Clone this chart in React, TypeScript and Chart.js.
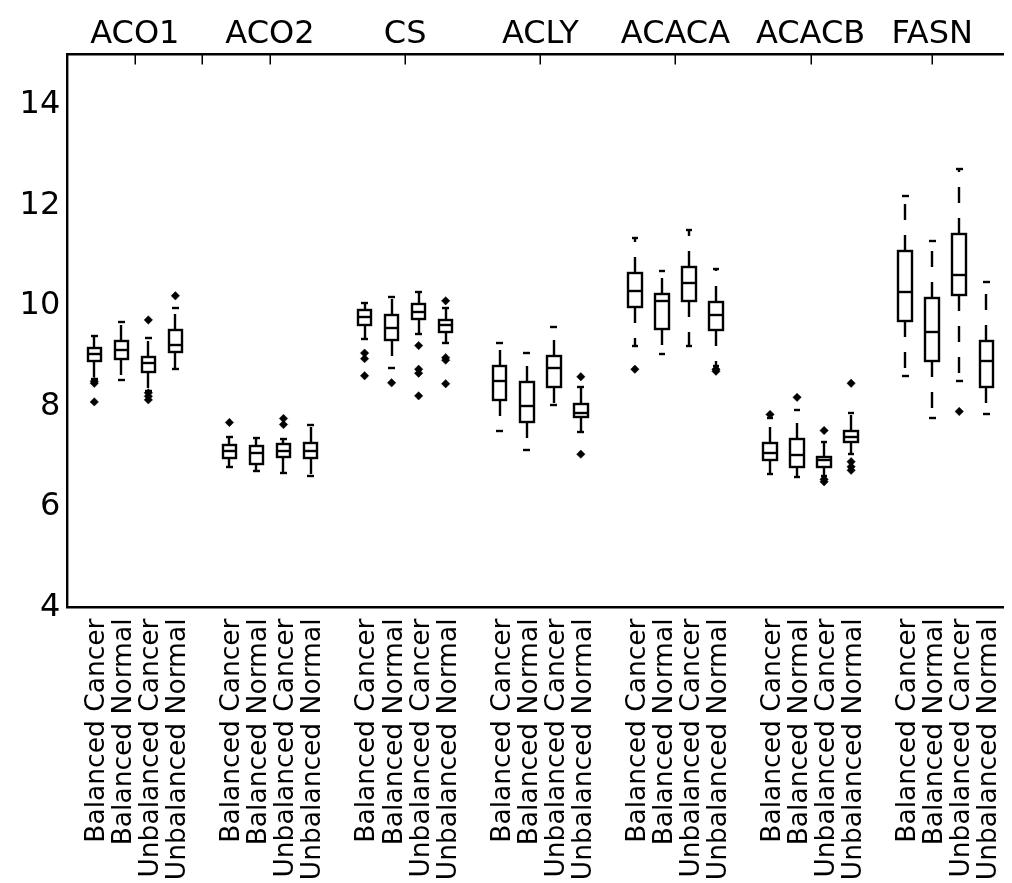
import React, { useEffect, useRef } from "react";
import { Chart, registerables } from "chart.js";

Chart.register(...registerables);

// Genes (one block of four boxes each) and the four sample groups per gene
const genes = ["ACO1", "ACO2", "CS", "ACLY", "ACACA", "ACACB", "FASN"];
const sampleGroups = ["Balanced Cancer", "Balanced Normal", "Unbalanced Cancer", "Unbalanced Normal"];

// Top axis: tick positions and their labels (gene names)
const topTickValues = [2.5, 5, 7.5, 12.5, 17.5, 22.5, 27.5, 32];
const topTickLabels = ["ACO1", "", "ACO2", "CS", "ACLY", "ACACA", "ACACB", "FASN"];

// Left axis ticks
const yTickValues = [4, 6, 8, 10, 12, 14];

// Box statistics, in box order (gene by gene, four sample groups each)
const upperWhisker = [
  9.41, 9.67, 9.36, 9.96,
  7.40, 7.37, 7.35, 7.63,
  10.05, 10.17, 10.28, 9.95,
  9.26, 9.07, 9.57, 8.38,
  11.34, 10.69, 11.50, 10.73,
  7.77, 7.93, 7.29, 7.86,
  12.19, 11.29, 12.72, 10.48,
];
const q3 = [
  9.16, 9.30, 8.98, 9.52,
  7.23, 7.22, 7.25, 7.27,
  9.92, 9.82, 10.04, 9.72,
  8.81, 8.48, 9.01, 8.04,
  10.65, 10.24, 10.78, 10.07,
  7.28, 7.35, 7.00, 7.51,
  11.10, 10.15, 11.42, 9.30,
];
const median = [
  9.05, 9.12, 8.86, 9.22,
  7.11, 7.07, 7.12, 7.12,
  9.77, 9.55, 9.88, 9.62,
  8.51, 8.01, 8.77, 7.86,
  10.30, 10.10, 10.46, 9.82,
  7.08, 7.03, 6.93, 7.40,
  10.27, 9.49, 10.61, 8.91,
];
const q1 = [
  8.90, 8.94, 8.69, 9.08,
  6.97, 6.85, 6.99, 6.97,
  9.61, 9.32, 9.73, 9.49,
  8.13, 7.68, 8.38, 7.78,
  9.97, 9.54, 10.10, 9.51,
  6.93, 6.80, 6.80, 7.30,
  9.70, 8.90, 10.22, 8.38,
];
const lowerWhisker = [
  8.55, 8.53, 8.30, 8.74,
  6.79, 6.72, 6.68, 6.62,
  9.34, 8.76, 9.44, 9.26,
  7.52, 7.13, 8.03, 7.50,
  9.21, 9.04, 9.21, 8.80,
  6.65, 6.59, 6.62, 7.05,
  8.61, 7.76, 8.51, 7.84,
];
const outliers: number[][] = [
  [8.50, 8.46, 8.09], [], [9.72, 8.27, 8.20, 8.13], [10.20],
  [7.68], [], [7.76, 7.64], [],
  [9.06, 8.95, 8.61], [8.47], [9.21, 8.74, 8.66, 8.21], [10.10, 8.97, 8.92, 8.45],
  [], [], [], [8.59, 7.05],
  [8.74], [], [], [8.74, 8.70],
  [7.84], [8.18], [7.52, 6.55, 6.50], [8.46, 6.90, 6.80, 6.73],
  [], [], [7.90], [],
];

// Box layout: four boxes per gene, one empty slot between genes
const boxPositions: number[] = [];
const boxLabels: string[] = [];
genes.forEach((_, g) => {
  sampleGroups.forEach((name, k) => {
    boxPositions.push(g * 5 + k + 1);
    boxLabels.push(name);
  });
});

const BOX_WIDTH = 0.5;
const CAP_WIDTH = 0.25;

const outlierPoints = outliers.flatMap((vals, i) =>
  vals.map((v) => ({ x: boxPositions[i], y: v }))
);

const FONT = "'DejaVu Sans', sans-serif";

const boxPlotPlugin = {
  id: "boxPlot",
  beforeDatasetsDraw(chart: any) {
    const xs = chart.scales.x;
    const ys = chart.scales.y;
    const ctx: CanvasRenderingContext2D = chart.ctx;
    const r = (v: number) => Math.round(v);
    ctx.save();
    ctx.strokeStyle = "#000";
    ctx.lineWidth = 2.4;
    ctx.lineCap = "butt";
    ctx.lineJoin = "miter";
    const seg = (x1: number, y1: number, x2: number, y2: number) => {
      ctx.beginPath();
      ctx.moveTo(x1, y1);
      ctx.lineTo(x2, y2);
      ctx.stroke();
    };
    boxPositions.forEach((p, i) => {
      const cx = r(xs.getPixelForValue(p));
      const left = r(xs.getPixelForValue(p - BOX_WIDTH / 2));
      const right = r(xs.getPixelForValue(p + BOX_WIDTH / 2));
      const capL = r(xs.getPixelForValue(p - CAP_WIDTH / 2));
      const capR = r(xs.getPixelForValue(p + CAP_WIDTH / 2));
      const yHi = r(ys.getPixelForValue(upperWhisker[i]));
      const y3 = r(ys.getPixelForValue(q3[i]));
      const yMed = r(ys.getPixelForValue(median[i]));
      const y1 = r(ys.getPixelForValue(q1[i]));
      const yLo = r(ys.getPixelForValue(lowerWhisker[i]));

      // whiskers (dashed, starting at the box edges)
      ctx.setLineDash([16, 15]);
      seg(cx, y3, cx, yHi);
      seg(cx, y1, cx, yLo);

      ctx.setLineDash([]);
      // caps
      seg(capL, yHi, capR, yHi);
      seg(capL, yLo, capR, yLo);
      // box
      ctx.strokeRect(left, y3, right - left, y1 - y3);
      // median
      seg(left, yMed, right, yMed);
    });
    ctx.restore();
  },
  afterDraw(chart: any) {
    // inward tick marks on the top axis
    const top = chart.scales.x2;
    const ctx: CanvasRenderingContext2D = chart.ctx;
    const yTop = chart.chartArea.top;
    ctx.save();
    ctx.strokeStyle = "#000";
    ctx.lineWidth = 1.5;
    top.ticks.forEach((t: any) => {
      const x = Math.round(top.getPixelForValue(t.value)) + 0.25;
      ctx.beginPath();
      ctx.moveTo(x, yTop);
      ctx.lineTo(x, yTop + 10);
      ctx.stroke();
    });
    ctx.restore();
  },
};

export default function App() {
  const canvasRef = useRef<HTMLCanvasElement | null>(null);

  useEffect(() => {
    const canvas = canvasRef.current;
    if (!canvas) return;
    const chart = new Chart(canvas, {
      type: "scatter",
      data: {
        datasets: [
          {
            label: "outliers",
            data: outlierPoints,
            pointStyle: "rectRot",
            pointRadius: 4.2,
            pointBorderWidth: 0.5,
            backgroundColor: "#000",
            borderColor: "#000",
            xAxisID: "x",
            yAxisID: "y",
          },
        ],
      },
      options: {
        animation: false,
        responsive: false,
        devicePixelRatio: 1,
        layout: { padding: { left: 0, right: 4, top: 0, bottom: 0 } },
        plugins: {
          legend: { display: false },
          tooltip: { enabled: false },
        },
        scales: {
          x: {
            type: "linear",
            position: "bottom",
            min: 0,
            max: 35,
            grid: { display: false, drawTicks: false },
            border: { display: true, color: "#000", width: 2.4 },
            afterBuildTicks: (scale: any) => {
              scale.ticks = boxPositions.map((v) => ({ value: v }));
            },
            afterFit: (scale: any) => {
              scale.height = 275.5;
              scale.paddingLeft = 0;
              scale.paddingRight = 0;
            },
            ticks: {
              autoSkip: false,
              minRotation: 90,
              maxRotation: 90,
              padding: 11,
              labelOffset: 3,
              color: "#000",
              font: { family: FONT, size: 26.5 },
              callback: (_v: any, idx: number) => boxLabels[idx],
            },
          },
          x2: {
            type: "linear",
            position: "top",
            min: 0,
            max: 35,
            grid: { display: false, drawTicks: false },
            border: { display: true, color: "#000", width: 2.4 },
            afterBuildTicks: (scale: any) => {
              scale.ticks = topTickValues.map((v) => ({ value: v }));
            },
            afterFit: (scale: any) => {
              scale.height = 46.5;
              scale.paddingLeft = 0;
              scale.paddingRight = 0;
            },
            ticks: {
              autoSkip: false,
              maxRotation: 0,
              padding: 1,
              color: "#000",
              font: { family: FONT, size: 32 },
              callback: (_v: any, idx: number) => topTickLabels[idx],
            },
          },
          y: {
            type: "linear",
            position: "left",
            min: 4,
            max: 15,
            grid: { display: false, drawTicks: false },
            border: { display: true, color: "#000", width: 2.4 },
            afterBuildTicks: (scale: any) => {
              scale.ticks = yTickValues.map((v) => ({ value: v }));
            },
            afterFit: (scale: any) => {
              scale.width = 59.25;
              scale.paddingTop = 0;
              scale.paddingBottom = 0;
            },
            ticks: {
              padding: 7,
              color: "#000",
              font: { family: FONT, size: 32 },
              callback: (v: any) => String(v),
            },
          },
        },
      },
      plugins: [boxPlotPlugin],
    });
    return () => chart.destroy();
  }, []);

  return (
    <div style={{ width: 1004, height: 875, overflow: "hidden" }}>
      <canvas ref={canvasRef} width={1010} height={875} style={{ display: "block" }} />
    </div>
  );
}
